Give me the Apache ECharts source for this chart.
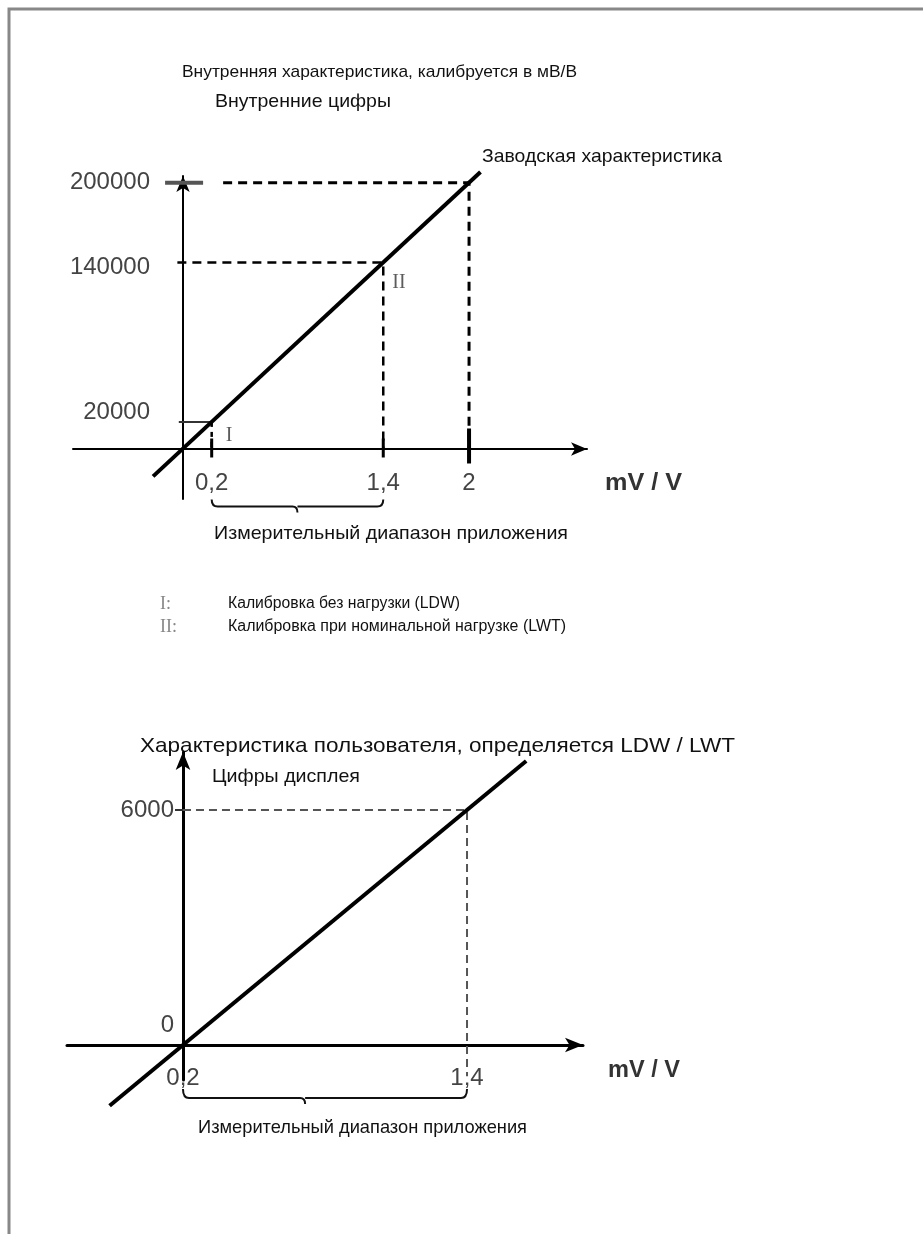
<!DOCTYPE html>
<html><head><meta charset="utf-8">
<script src="https://cdn.jsdelivr.net/npm/echarts@6/dist/echarts.min.js"></script>
<style>html,body{margin:0;padding:0;background:#fff}#c{width:923px;height:1234px}</style>
</head><body><div id="c"></div>
<script>
// ---------- Top chart: internal characteristic ----------
const factoryLineX = [-0.21, 2.08];
const factoryLineY = [-21000, 208000];
const calibX = [0.2, 1.4, 2];
const calibY = [20000, 140000, 200000];
const calibNames = ['I', 'II'];
const topXTickLabels = ['0,2', '1,4', '2'];
const topYTickLabels = ['20000', '140000', '200000'];
// ---------- Bottom chart: user characteristic ----------
const userLineX = [-0.11, 1.65];
const userLineY = [-1550, 7250];
const userX = [0.2, 1.4];
const userY = [0, 6000];
const botXTickLabels = ['0,2', '1,4'];
const botYTickLabels = ['0', '6000'];

const FONT = 'Liberation Sans, Arial, sans-serif';
const SERIF = 'Liberation Serif, DejaVu Serif, serif';
const TXT = '#111';
const NUM = '#444';
const NUMSIZE = 24;

const chart = echarts.init(document.getElementById('c'), null, {renderer: 'canvas'});

function lblMap(values, labels) { const m = {}; values.forEach((v, i) => m[v] = labels[i]); return m; }
const topXL = lblMap(calibX, topXTickLabels);
const topYL = lblMap(calibY, topYTickLabels);
const botXL = lblMap(userX, botXTickLabels);
const botYL = lblMap(userY, botYTickLabels);

const mctx = document.createElement('canvas').getContext('2d');
function txt(text, x0, x1, cy, font, fill) {
  mctx.font = font;
  const w = mctx.measureText(text).width;
  return {type: 'text', x: x0, y: cy, scaleX: (x1 - x0) / w, silent: true,
          style: {text: text, font: font, fill: fill || TXT, align: 'left', verticalAlign: 'middle'}};
}

function brace(depth, hook, nubFrac) {
  return function (params, api) {
    const a = api.coord([api.value(0), 0]);
    const b = api.coord([api.value(1), 0]);
    const y0 = a[1] + depth, y1 = y0 + hook;
    const mid = a[0] + (b[0] - a[0]) * nubFrac;
    return {
      type: 'path',
      shape: {pathData:
        `M${a[0]} ${y0} Q${a[0]} ${y1} ${a[0] + 6} ${y1} L${mid - 5} ${y1} Q${mid} ${y1} ${mid} ${y1 + 6} ` +
        `M${mid} ${y1} L${b[0] - 6} ${y1} Q${b[0]} ${y1} ${b[0]} ${y0}`},
      style: {stroke: '#111', lineWidth: 2, fill: null}
    };
  };
}

const numStyle = {color: NUM, fontSize: NUMSIZE, fontFamily: FONT};

const option = {
  backgroundColor: '#fff',
  animation: false,
  grid: [
    {left: 73, top: 176, width: 514, height: 323, outerBoundsMode: 'none', containLabel: false},
    {left: 67, top: 752, width: 516, height: 328, outerBoundsMode: 'none', containLabel: false}
  ],
  xAxis: [
    {type: 'value', gridIndex: 0, min: -0.77, max: 2.825, splitLine: {show: false}, position: 'bottom', offset: -50,
     axisLine: {onZero: false, symbol: ['none', 'arrow'], symbolSize: [10, 16], lineStyle: {color: '#000', width: 2}},
     axisTick: {show: false},
     axisLabel: Object.assign({customValues: calibX, formatter: v => topXL[v] || '', margin: 22}, numStyle)},
    {type: 'value', gridIndex: 1, min: -0.29, max: 1.89, splitLine: {show: false}, position: 'bottom', offset: -35,
     axisLine: {onZero: false, symbol: ['none', 'arrow'], symbolSize: [11, 18], lineStyle: {color: '#000', width: 3}},
     axisTick: {show: false},
     axisLabel: Object.assign({customValues: userX, formatter: v => botXL[v] || '', margin: 21}, numStyle)}
  ],
  yAxis: [
    {type: 'value', gridIndex: 0, min: -38000, max: 205000, splitLine: {show: false}, position: 'left', offset: -110,
     axisLine: {onZero: false, symbol: ['none', 'arrow'], symbolSize: [10, 16], lineStyle: {color: '#000', width: 2}},
     axisTick: {show: false},
     axisLabel: Object.assign({customValues: calibY, margin: 33,
       formatter: v => v === 20000 ? '{up|' + topYL[v] + '}' : v === 140000 ? '{dn|' + topYL[v] + '}' : topYL[v],
       rich: {up: Object.assign({padding: [0, 0, 20, 0]}, numStyle), dn: Object.assign({padding: [10, 0, 0, 0]}, numStyle)}}, numStyle)},
    {type: 'value', gridIndex: 1, min: -894, max: 7480, splitLine: {show: false}, position: 'left', offset: -116,
     axisLine: {onZero: false, symbol: ['none', 'arrow'], symbolSize: [11, 18], lineStyle: {color: '#000', width: 3}},
     axisTick: {show: true, customValues: [6000], length: 8, lineStyle: {color: '#333', width: 2}},
     axisLabel: Object.assign({customValues: userY, margin: 9,
       formatter: v => v === 0 ? '{up|' + botYL[v] + '}' : botYL[v],
       rich: {up: Object.assign({padding: [0, 0, 40, 0]}, numStyle)}}, numStyle)}
  ],
  series: [
    // top: dashed guides
    {type: 'line', xAxisIndex: 0, yAxisIndex: 0, symbol: 'none', silent: true, clip: false,
     data: [[0.28, calibY[2]], [calibX[2], calibY[2]], [calibX[2], 0]],
     lineStyle: {color: '#000', width: 3, type: [9, 6]}},
    {type: 'line', xAxisIndex: 0, yAxisIndex: 0, symbol: 'none', silent: true, clip: false,
     data: [[-0.04, calibY[1]], [calibX[1], calibY[1]], [calibX[1], 0]],
     lineStyle: {color: '#000', width: 2.5, type: [9, 6]}},
    {type: 'line', xAxisIndex: 0, yAxisIndex: 0, symbol: 'none', silent: true, clip: false,
     data: [[-0.03, calibY[0]], [calibX[0], calibY[0]]],
     lineStyle: {color: '#333', width: 2}},
    {type: 'line', xAxisIndex: 0, yAxisIndex: 0, symbol: 'none', silent: true, clip: false,
     data: [[calibX[0], calibY[0]], [calibX[0], 0]],
     lineStyle: {color: '#000', width: 2.5, type: [5, 5]}},
    // top: factory line
    {type: 'line', xAxisIndex: 0, yAxisIndex: 0, symbol: 'none', silent: true, clip: false,
     data: factoryLineX.map((x, i) => [x, factoryLineY[i]]),
     lineStyle: {color: '#000', width: 4}},
    // top: ticks crossing x axis
    {type: 'custom', xAxisIndex: 0, yAxisIndex: 0, silent: true, clip: false,
     data: calibX.map(x => [x, 0]),
     renderItem: (params, api) => {
       const p = api.coord([api.value(0), 0]);
       const big = params.dataIndex === 2;
       return {type: 'line', shape: {x1: p[0], y1: p[1] - (big ? 20 : 10), x2: p[0], y2: p[1] + (big ? 15 : 9)},
               style: {stroke: '#000', lineWidth: big ? 4 : 3}};
     }},
    // top: 200000 tick crossing y axis
    {type: 'custom', xAxisIndex: 0, yAxisIndex: 0, silent: true, clip: false,
     data: [[0, calibY[2]]],
     renderItem: (params, api) => {
       const p = api.coord([0, api.value(1)]);
       return {type: 'line', shape: {x1: p[0] - 18, y1: p[1], x2: p[0] + 20, y2: p[1]},
               style: {stroke: '#555', lineWidth: 4}};
     }},
    // top: I / II labels
    {type: 'scatter', xAxisIndex: 0, yAxisIndex: 0, symbolSize: 0, silent: true,
     data: calibNames.map((n, i) => ({value: [calibX[i], calibY[i]], name: n,
       label: {offset: i === 0 ? [14, 14] : [9, 20]}})),
     label: {show: true, position: 'right', distance: 0, formatter: p => p.name,
       fontFamily: SERIF, fontSize: 20, color: '#333'}},
    // top: brace
    {type: 'custom', xAxisIndex: 0, yAxisIndex: 0, silent: true, clip: false,
     data: [[calibX[0], calibX[1]]], renderItem: brace(51, 7, 0.5)},

    // bottom: dashed guide
    {type: 'line', xAxisIndex: 1, yAxisIndex: 1, symbol: 'none', silent: true, clip: false,
     data: [[userX[0], userY[1]], [userX[1], userY[1]], [userX[1], -800]],
     lineStyle: {color: '#555', width: 2, type: [8, 5]}},
    // bottom: user line
    {type: 'line', xAxisIndex: 1, yAxisIndex: 1, symbol: 'none', silent: true, clip: false,
     data: userLineX.map((x, i) => [x, userLineY[i]]),
     lineStyle: {color: '#000', width: 4}},
    // bottom: brace
    {type: 'custom', xAxisIndex: 1, yAxisIndex: 1, silent: true, clip: false,
     data: [[userX[0], userX[1]]], renderItem: brace(44, 9, 0.43)}
  ],
  graphic: [
    {type: 'polyline', shape: {points: [[9, 1234], [9, 9], [923, 9]]}, style: {stroke: '#888', lineWidth: 3, fill: null}},
    txt('Внутренняя характеристика, калибруется в мВ/В', 182, 577, 72, '17px ' + FONT),
    txt('Внутренние цифры', 215, 391, 102, '19px ' + FONT),
    txt('Заводская характеристика', 482, 722, 157, '19px ' + FONT),
    txt('mV / V', 605, 682, 483, 'bold 24px ' + FONT, '#333'),
    txt('Измерительный диапазон приложения', 214, 568, 534, '19px ' + FONT),
    {type: 'text', x: 160, y: 604, silent: true, style: {text: 'I:', font: '18px ' + SERIF, fill: '#888', verticalAlign: 'middle'}},
    txt('Калибровка без нагрузки (LDW)', 228, 460, 604, '16px ' + FONT),
    {type: 'text', x: 160, y: 627, silent: true, style: {text: 'II:', font: '18px ' + SERIF, fill: '#888', verticalAlign: 'middle'}},
    txt('Калибровка при номинальной нагрузке (LWT)', 228, 566, 627, '16px ' + FONT),
    txt('Характеристика пользователя, определяется LDW / LWT', 140, 735, 746, '21px ' + FONT),
    txt('Цифры дисплея', 212, 360, 777, '19px ' + FONT),
    txt('mV / V', 608, 680, 1070, 'bold 24px ' + FONT, '#333'),
    txt('Измерительный диапазон приложения', 198, 527, 1128, '19px ' + FONT)
  ]
};
chart.setOption(option);
</script></body></html>
